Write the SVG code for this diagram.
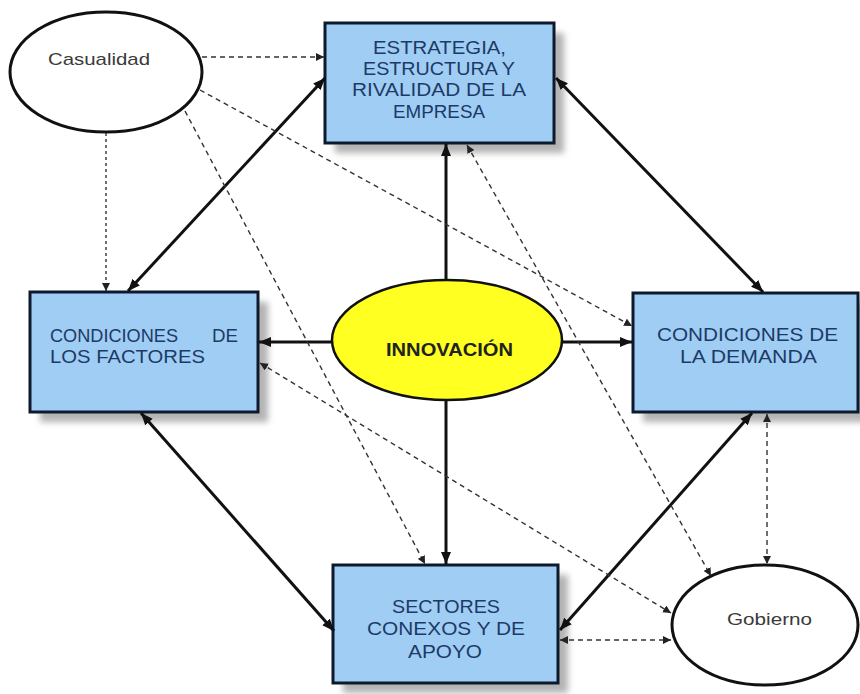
<svg xmlns="http://www.w3.org/2000/svg" width="860" height="694" viewBox="0 0 860 694">
<style>
.box{fill:#a0cdf4;stroke:#0d1a2e;stroke-width:3}
.shadow{fill:#9a9a9a;opacity:0.75;filter:url(#blur)}
.oval{fill:#ffffff;stroke:#111;stroke-width:3}
.bt{font-family:"Liberation Sans",Arial,sans-serif;font-size:18px;fill:#1c3a66;text-anchor:middle}
.ot{font-family:"Liberation Sans",Arial,sans-serif;font-size:17px;fill:#3a3a3a;text-anchor:middle}
.solid{stroke:#111;stroke-width:3;fill:none;marker-end:url(#ah);marker-start:url(#ah)}
.one{stroke:#111;stroke-width:3;fill:none;marker-end:url(#ah)}
.dash{stroke:#333;stroke-width:1.4;fill:none;stroke-dasharray:5 4;marker-end:url(#dh)}
.dash2{stroke:#333;stroke-width:1.4;fill:none;stroke-dasharray:5 4;marker-end:url(#dh);marker-start:url(#dh)}
</style>
<defs>
<filter id="blur" x="-10%" y="-10%" width="120%" height="120%"><feGaussianBlur stdDeviation="3"/></filter>
<marker id="ah" markerUnits="userSpaceOnUse" markerWidth="13" markerHeight="10" refX="12" refY="5" orient="auto-start-reverse"><path d="M0,0 L12,5 L0,10 z" fill="#111"/></marker>
<marker id="dh" markerUnits="userSpaceOnUse" markerWidth="9" markerHeight="8" refX="8" refY="4" orient="auto-start-reverse"><path d="M0,0 L8,4 L0,8 z" fill="#222"/></marker>
</defs>
<rect width="860" height="694" fill="#ffffff"/>

<g id="casualidad">
<ellipse class="oval" cx="106" cy="72" rx="96" ry="60"/>
<text class="ot" x="99" y="65" textLength="102" lengthAdjust="spacingAndGlyphs">Casualidad</text>
</g>

<g id="estrategia">
<rect class="shadow" x="335" y="33" width="229" height="120"/>
<rect class="box" x="325" y="23" width="229" height="120"/>
<text class="bt" x="439.5" y="54" textLength="133" lengthAdjust="spacingAndGlyphs">ESTRATEGIA,</text>
<text class="bt" x="439" y="75" textLength="152" lengthAdjust="spacingAndGlyphs">ESTRUCTURA  Y</text>
<text class="bt" x="439" y="96" textLength="174" lengthAdjust="spacingAndGlyphs">RIVALIDAD DE LA</text>
<text class="bt" x="439" y="118" textLength="92" lengthAdjust="spacingAndGlyphs">EMPRESA</text>
</g>

<g id="factores">
<rect class="shadow" x="40" y="302" width="228" height="120"/>
<rect class="box" x="30" y="292" width="228" height="120"/>
<text class="bt" x="50" y="342" textLength="128" lengthAdjust="spacingAndGlyphs" style="text-anchor:start">CONDICIONES</text>
<text class="bt" x="238" y="342" textLength="26" lengthAdjust="spacingAndGlyphs" style="text-anchor:end">DE</text>
<text class="bt" x="50" y="363" textLength="155" lengthAdjust="spacingAndGlyphs" style="text-anchor:start">LOS FACTORES</text>
</g>

<g id="innovacion">
<ellipse cx="447" cy="340" rx="115" ry="60" fill="#ffff22" stroke="#111" stroke-width="2.5"/>
<text x="449.5" y="356" textLength="127" lengthAdjust="spacingAndGlyphs" style="font-family:'Liberation Sans',Arial,sans-serif;font-size:18px;font-weight:bold;fill:#222;text-anchor:middle">INNOVACIÓN</text>
</g>

<g id="demanda">
<rect class="shadow" x="643" y="303" width="225" height="119"/>
<rect class="box" x="633" y="293" width="225" height="119"/>
<text class="bt" x="747.5" y="341" textLength="181" lengthAdjust="spacingAndGlyphs">CONDICIONES  DE</text>
<text class="bt" x="748.5" y="363" textLength="137" lengthAdjust="spacingAndGlyphs">LA DEMANDA</text>
</g>

<g id="sectores">
<rect class="shadow" x="343" y="575" width="225" height="118"/>
<rect class="box" x="333" y="565" width="225" height="118"/>
<text class="bt" x="446" y="613" textLength="108" lengthAdjust="spacingAndGlyphs">SECTORES</text>
<text class="bt" x="446" y="635" textLength="158" lengthAdjust="spacingAndGlyphs">CONEXOS Y DE</text>
<text class="bt" x="445" y="658" textLength="74" lengthAdjust="spacingAndGlyphs">APOYO</text>
</g>

<g id="gobierno">
<ellipse class="oval" cx="765" cy="625" rx="93" ry="60"/>
<text class="ot" x="769.5" y="625" textLength="85" lengthAdjust="spacingAndGlyphs">Gobierno</text>
</g>

<g id="connectors">
<line class="solid" x1="128" y1="291" x2="325" y2="78"/>
<line class="solid" x1="556" y1="78" x2="763" y2="292"/>
<line class="one" x1="446" y1="280" x2="446" y2="144"/>
<line class="one" x1="332" y1="342" x2="259" y2="342"/>
<line class="one" x1="562" y1="342" x2="632" y2="342"/>
<line class="one" x1="446" y1="400" x2="446" y2="564"/>
<line class="solid" x1="141" y1="413" x2="334" y2="631"/>
<line class="solid" x1="752" y1="413" x2="560" y2="630"/>

<line class="dash" x1="202" y1="57" x2="324" y2="57"/>
<line class="dash" x1="106" y1="133" x2="106" y2="291" style="stroke-dasharray:3 3"/>
<line class="dash" x1="200" y1="90" x2="632" y2="326"/>
<line class="dash" x1="185" y1="111" x2="425" y2="564"/>
<line class="dash2" x1="467" y1="145" x2="711" y2="576"/>
<line class="dash2" x1="260" y1="363" x2="671" y2="613"/>
<line class="dash2" x1="767" y1="414" x2="767" y2="564"/>
<line class="dash2" x1="560" y1="640" x2="671" y2="640"/>
</g>
</svg>
